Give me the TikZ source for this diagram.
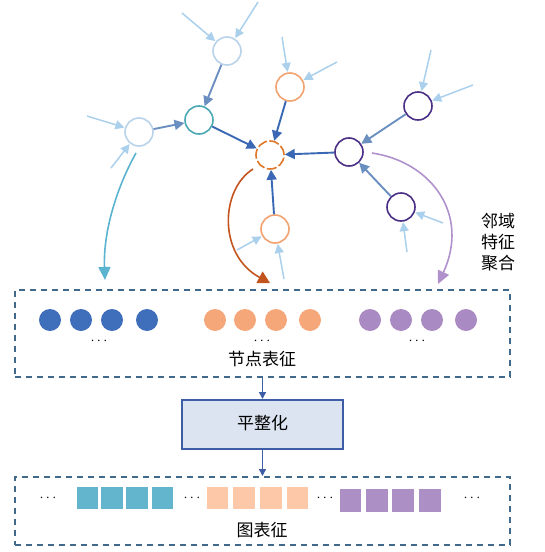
\documentclass[tikz,border=0pt]{standalone}
\usepackage{fontspec}
\setmainfont{Liberation Serif}
\newfontfamily\cjk{Noto Sans CJK SC}
\usetikzlibrary{arrows.meta}
\definecolor{dkblue}{HTML}{3A68B5}
\definecolor{stblue}{HTML}{6A8FC0}
\definecolor{ltblue}{HTML}{AAD0EC}
\definecolor{nodelt}{HTML}{B9D3EA}
\definecolor{teal1}{HTML}{4AA9B5}
\definecolor{orng}{HTML}{F2A370}
\definecolor{orngdk}{HTML}{E0782A}
\definecolor{purp}{HTML}{4B2F86}
\definecolor{cblue}{HTML}{3F6FBA}
\definecolor{corange}{HTML}{F5A77A}
\definecolor{cpurple}{HTML}{A98AC3}
\definecolor{sqteal}{HTML}{62B5CC}
\definecolor{sqorange}{HTML}{FCC8A8}
\definecolor{sqpurple}{HTML}{AC8FC4}
\definecolor{boxdash}{HTML}{41698C}
\definecolor{flatfill}{HTML}{DDE4F1}
\definecolor{flatdraw}{HTML}{3D5DA6}
\definecolor{arcteal}{HTML}{5AB3CF}
\definecolor{arcorange}{HTML}{C4541E}
\definecolor{arcpurple}{HTML}{B091CC}
\tikzset{
  gnode/.style={circle, minimum size=28pt, inner sep=0pt, line width=1.6pt, fill=white},
  ltarrow/.style={ltblue, line width=1.5pt, -{Triangle[length=9pt,width=9pt]}, shorten >=0.5pt},
  dkarrow/.style={dkblue, line width=1.9pt, -{Triangle[length=10pt,width=10pt]}},
  starrow/.style={stblue, line width=1.9pt, -{Triangle[length=10pt,width=10pt]}},
  dashbox/.style={draw=boxdash, line width=2pt, dash pattern=on 6pt off 5pt, rectangle, inner sep=0pt},
  dotc/.style={circle, minimum size=22pt, inner sep=0pt},
  sq/.style={rectangle, minimum width=21.5pt, minimum height=22pt, inner sep=0pt},
  lbl/.style={font=\cjk\fontsize{17}{20}\selectfont, inner sep=0pt},
  dots/.style={font=\bfseries\fontsize{15}{15}\selectfont, inner sep=0pt}
}
\begin{document}
\begin{tikzpicture}[x=1pt,y=-1pt]
\useasboundingbox (0,0) rectangle (544,552);
% dashed boxes
\node[dashbox, minimum width=495pt, minimum height=87pt] (box1) at (262.5,333.5) {};
\node[dashbox, minimum width=495pt, minimum height=68pt] (box2) at (262.5,511) {};
% graph nodes
\node[gnode, draw=orngdk, dash pattern=on 10pt off 2.5pt] (C) at (270,155) {};
\node[gnode, draw=nodelt] (A1) at (227,51) {};
\node[gnode, draw=teal1] (T) at (199,120) {};
\node[gnode, draw=nodelt] (L) at (139,132) {};
\node[gnode, draw=orng] (O1) at (290,87) {};
\node[gnode, draw=orng] (O2) at (275,229) {};
\node[gnode, draw=purp] (P) at (349,152) {};
\node[gnode, draw=purp] (P1) at (418,106) {};
\node[gnode, draw=purp] (P2) at (401,207) {};
% free ends of light arrows
\coordinate (a1a) at (182,13);
\coordinate (a1b) at (258,2);
\coordinate (o1a) at (282,37);
\coordinate (o1b) at (337,62);
\coordinate (la) at (87,116);
\coordinate (lb) at (111,168);
\coordinate (p1a) at (431,50);
\coordinate (p1b) at (473,85);
\coordinate (p2a) at (443,223);
\coordinate (p2b) at (407,252);
\coordinate (o2a) at (237,250);
\coordinate (o2b) at (284,279);
\draw[ltarrow] (a1a) -- (A1);
\draw[ltarrow] (a1b) -- (A1);
\draw[ltarrow] (o1a) -- (O1);
\draw[ltarrow] (o1b) -- (O1);
\draw[ltarrow] (la) -- (L);
\draw[ltarrow] (lb) -- (L);
\draw[ltarrow] (p1a) -- (P1);
\draw[ltarrow] (p1b) -- (P1);
\draw[ltarrow] (p2a) -- (P2);
\draw[ltarrow] (p2b) -- (P2);
\draw[ltarrow] (o2a) -- (O2);
\draw[ltarrow] (o2b) -- (O2);
% main arrows
\draw[starrow] (A1) -- (T);
\draw[starrow] (L) -- (T);
\draw[starrow] (P1) -- (P);
\draw[starrow] (P2) -- (P);
\draw[dkarrow] (T) -- (C);
\draw[dkarrow] (O1) -- (C);
\draw[dkarrow] (O2) -- (C);
\draw[dkarrow] (P) -- (C);
% aggregation arcs
\coordinate (tarcs) at (136,153);
\coordinate (tarce) at (105,280);
\coordinate (oarcs) at (253,169);
\coordinate (oarce) at (270,283);
\coordinate (parcs) at (372,153);
\coordinate (parce) at (438,284);
\draw[arcteal, line width=1.6pt, -{Triangle[length=13pt,width=12pt]}] (tarcs) .. controls (118,185) and (103,230) .. (tarce);
\draw[arcorange, line width=1.6pt, -{Triangle[length=12pt,width=13pt]}] (oarcs) .. controls (220,190) and (218,255) .. (oarce);
\draw[arcpurple, line width=1.6pt, -{Triangle[length=13pt,width=12pt]}] (parcs) .. controls (432,162) and (470,215) .. (parce);
\node[lbl, align=left] (agg) at (498,242) {邻域\\[1pt]特征\\[1pt]聚合};
% node representation circles
\foreach \x/\n in {50/b1,81/b2,112/b3,147/b4} \node[dotc, fill=cblue] (\n) at (\x,320) {};
\foreach \x/\n in {215/o1,245/o2,276/o3,310/o4} \node[dotc, fill=corange] (\n) at (\x,320) {};
\foreach \x/\n in {370/q1,401/q2,432/q3,466/q4} \node[dotc, fill=cpurple] (\n) at (\x,320) {};
\node[dots] (d1) at (99,341) {$\cdots$};
\node[dots] (d2) at (262,341) {$\cdots$};
\node[dots] (d3) at (417,341) {$\cdots$};
\node[lbl] (t1) at (262,359) {节点表征};
% flatten
\node[rectangle, fill=flatfill, draw=flatdraw, line width=2pt, minimum width=161pt, minimum height=49pt, inner sep=0pt] (flat) at (262.5,424.5) {};
\node[lbl] (flatt) at (262.5,423) {平整化};
\draw[flatdraw, line width=1.4pt, -{Triangle[length=7pt,width=7pt]}] (box1.south) -- (flat.north);
\draw[flatdraw, line width=1.4pt, -{Triangle[length=7pt,width=7pt]}] (flat.south) -- (box2.north);
% graph representation squares
\foreach \x/\n in {87.5/s1,112/s2,137/s3,162.5/s4} \node[sq, fill=sqteal] (\n) at (\x,498) {};
\foreach \x/\n in {217.5/s5,244/s6,271/s7,297.5/s8} \node[sq, fill=sqorange] (\n) at (\x,498) {};
\foreach \x/\n in {350.5/s9,377/s10,403/s11,430/s12} \node[sq, fill=sqpurple, minimum height=23pt] (\n) at (\x,500) {};
\node[dots] (e1) at (48,498) {$\cdots$};
\node[dots] (e2) at (192,498) {$\cdots$};
\node[dots] (e3) at (325,498) {$\cdots$};
\node[dots] (e4) at (472,498) {$\cdots$};
\node[lbl] (t2) at (262,530) {图表征};
\end{tikzpicture}
\end{document}
